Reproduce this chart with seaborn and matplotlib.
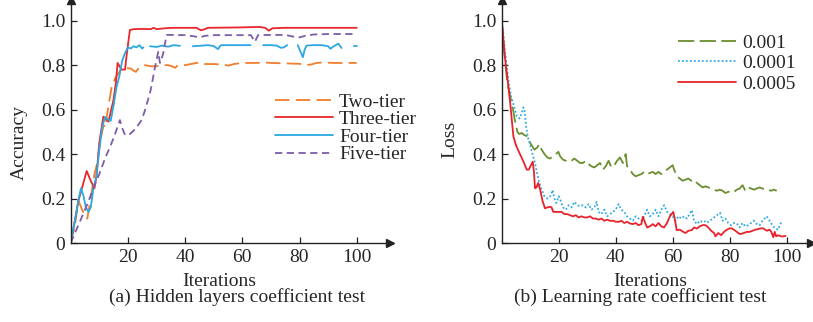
import matplotlib
matplotlib.use("Agg")
import matplotlib.pyplot as plt
from matplotlib.lines import Line2D
import seaborn as sns
import pandas as pd
import numpy as np

# ---- (a) hidden layers: accuracy vs iterations ----
two_x = [0, 1.5, 2.7, 4, 5, 5.8, 7, 8.3, 9.3, 10.5, 11.5, 12, 13, 14.3, 15.5, 16.5, 17.5, 18.5, 19.6,
         21, 22, 22.8, 24, 26, 28, 30, 32, 34, 35.5, 36.5, 37.5, 40, 42, 44, 45.5, 47, 50, 53, 55.1,
         57, 60, 65, 68, 70, 75, 80, 82, 84, 86, 88, 92, 100]
two_y = [0, 0.08, 0.19, 0.15, 0.12, 0.11, 0.2, 0.31, 0.36, 0.47, 0.53, 0.52, 0.6, 0.70, 0.74, 0.76, 0.78,
         0.79, 0.786, 0.785, 0.775, 0.77, 0.79, 0.80, 0.795, 0.795, 0.80, 0.80, 0.795, 0.788, 0.80, 0.80,
         0.805, 0.81, 0.812, 0.805, 0.805, 0.803, 0.798, 0.805, 0.81, 0.81, 0.812, 0.81, 0.808, 0.806,
         0.80, 0.803, 0.81, 0.812, 0.81, 0.81]

three_x = [0, 1, 2.7, 4, 5.6, 7, 8.3, 9, 10, 11.4, 12.2, 13.2, 14.9, 15.8, 16.4, 17.8, 19, 19.6,
           20.7, 22, 25, 28, 29, 30, 33, 36, 40, 44, 45.5, 46.5, 48, 55, 60, 66, 68, 69.3, 70.5, 75,
           80, 90, 100]
three_y = [0, 0.07, 0.19, 0.25, 0.324, 0.28, 0.246, 0.30, 0.45, 0.568, 0.56, 0.546, 0.64, 0.72, 0.81,
           0.78, 0.78, 0.85, 0.958, 0.962, 0.963, 0.962, 0.968, 0.962, 0.966, 0.968, 0.968, 0.968,
           0.957, 0.96, 0.968, 0.969, 0.97, 0.972, 0.968, 0.955, 0.966, 0.968, 0.968, 0.968, 0.968]

# NaN = break in the drawn line
four_x = [0, 1.5, 2.8, 3.6, 4.5, 5.3, 6.2, 7, 8, 9, 10, 11, 12, 13, 14, 15, 16, 17, 18, 19, 20, 21,
          22, 23, 24, 25, 25.4, 26.5, 27.7, 30, 32, 34, 36, 38.2, 40, 42.7, 45, 48, 50, 51.5, 52.5,
          56, 60, 62.9, 65, 67.3, 70, 72, 73.5, 74.5, 75.7, 77.5, 79.4, 80.3, 81.2, 81.8, 82.5, 85,
          88, 90, 90.8, 92, 93.6, 94.7, 97, 99.2, 100]
four_y = [0, 0.1, 0.2, 0.246, 0.21, 0.16, 0.14, 0.16, 0.25, 0.3, 0.42, 0.52, 0.567, 0.555, 0.55,
          0.62, 0.7, 0.75, 0.82, 0.855, 0.88, 0.875, 0.885, 0.88, 0.89, 0.875, 0.88, np.nan, 0.885,
          0.882, 0.888, 0.883, 0.89, 0.887, np.nan, 0.885, 0.887, 0.89, 0.886, 0.872, 0.89, 0.89,
          0.89, 0.89, np.nan, 0.89, 0.89, 0.888, 0.878, 0.88, 0.89, np.nan, 0.89, 0.862, 0.836,
          0.87, 0.888, 0.89, 0.89, 0.885, 0.874, 0.885, 0.897, 0.877, np.nan, 0.888, 0.888]

five_x = [0, 2, 4, 6, 8, 10, 12, 14, 15.5, 17.2, 17.9, 19, 20.7, 22, 23, 24.8, 25.8, 26.7, 27.7,
          28.6, 29.3, 30, 30.6, 31.2, 32.3, 33, 33.6, 36, 40, 43, 45, 47, 50, 55, 60, 63, 64.4, 65.5,
          70, 75, 78, 80, 82, 85, 90, 95, 100]
five_y = [0, 0.06, 0.12, 0.18, 0.25, 0.31, 0.38, 0.44, 0.49, 0.553, 0.52, 0.486, 0.49, 0.505, 0.52,
          0.553, 0.59, 0.63, 0.673, 0.73, 0.78, 0.823, 0.86, 0.81, 0.85, 0.9, 0.936, 0.936, 0.935,
          0.93, 0.925, 0.932, 0.935, 0.935, 0.935, 0.935, 0.905, 0.935, 0.936, 0.936, 0.928, 0.925,
          0.932, 0.938, 0.94, 0.94, 0.94]

# ---- (b) learning rate: loss vs iterations ----
lr_001_x = [0, 0.5, 1, 1.5, 2, 2.5, 3, 3.5, 4, 4.5, 5, 5.5, 6.2, 7, 8, 9, 10, 10.5, 11.5, 12.5, 13.2,
            14, 15, 16, 17, 18, 19, 19.9, 20.5, 21.5, 22.5, 23.5, 24.5, 25.5, 26.5, 27.5, 28.5, 29.5,
            30.5, 31.5, 32.5, 33.5, 34.5, 35.5, 36.5, 37.5, 38.5, 39.5, 40.5, 41.5, 42.5, 43.5, 44,
            45, 46, 47, 48, 49, 50, 51, 52, 53, 54, 55, 56, 57, 58, 59, 60, 60.5, 61.5, 62.5, 63.5,
            64.5, 65.5, 66.5, 67.5, 68.5, 69.5, 70.5, 71.5, 72.5, 73.5, 74.5, 75.5, 76.5, 77.5, 78.5,
            79.5, 80.5, 81.5, 82.5, 83.5, 84.5, 85.5, 86.5, 87.5, 88.5, 89.5, 90.5, 91.5, 92.5, 93.5,
            94.5, 95.5, 96.5]
lr_001_y = [1.0, 0.93, 0.85, 0.78, 0.72, 0.69, 0.66, 0.62, 0.6, 0.56, 0.53, 0.5, 0.49, 0.495, 0.485,
            0.48, 0.45, 0.44, 0.42, 0.43, 0.445, 0.42, 0.4, 0.385, 0.38, 0.39, 0.4, 0.41, 0.39, 0.375,
            0.37, 0.365, 0.37, 0.38, 0.37, 0.36, 0.36, 0.37, 0.355, 0.345, 0.34, 0.35, 0.36, 0.33,
            0.345, 0.37, 0.34, 0.35, 0.37, 0.385, 0.36, 0.40, 0.345, 0.33, 0.31, 0.3, 0.305, 0.31,
            0.32, 0.31, 0.315, 0.32, 0.31, 0.32, 0.31, 0.32, 0.33, 0.34, 0.35, 0.33, 0.3, 0.29, 0.28,
            0.285, 0.29, 0.28, 0.285, 0.27, 0.26, 0.25, 0.255, 0.25, 0.245, 0.24, 0.235, 0.24, 0.235,
            0.225, 0.23, 0.235, 0.23, 0.24, 0.245, 0.26, 0.235, 0.25, 0.245, 0.24, 0.245, 0.25, 0.245,
            0.24, 0.24, 0.235, 0.24, 0.235]

lr_0001_x = [0, 0.5, 1, 1.7, 2.5, 3.3, 4.2, 5.3, 6.3, 7, 7.6, 8.1, 8.6, 9.3, 10, 10.8, 11.7, 12.3, 13,
             14, 15, 16, 17, 17.9, 18.5, 19.2, 20, 20.7, 21.5, 22.5, 23.5, 24.5, 25.5, 26.5, 27.5, 28.5,
             29.5, 30.5, 31.5, 32.5, 33.3, 34, 35, 36, 37, 38, 39, 40, 41, 42, 43, 44, 45, 46, 47, 48,
             49, 50, 51, 52, 53, 54, 55, 56, 57, 58, 59, 60, 61, 62, 63, 64, 65, 66.7, 67.5, 68.5,
             69.5, 70.2, 71, 72, 73, 74, 75, 76.6, 77.5, 78.5, 79.5, 80.5, 81.5, 82.5, 83.5, 84.5,
             85.5, 86.5, 87.5, 88.5, 89.5, 90.5, 91.5, 93, 94, 95, 95.9, 97, 97.6, 98.2]
lr_0001_y = [1.0, 0.95, 0.88, 0.8, 0.72, 0.66, 0.62, 0.57, 0.56, 0.585, 0.61, 0.59, 0.52, 0.47, 0.44,
             0.4, 0.36, 0.32, 0.28, 0.24, 0.21, 0.2, 0.21, 0.238, 0.2, 0.18, 0.21, 0.19, 0.16, 0.15,
             0.17, 0.16, 0.185, 0.17, 0.165, 0.17, 0.16, 0.175, 0.15, 0.16, 0.185, 0.14, 0.13, 0.15,
             0.12, 0.13, 0.14, 0.15, 0.175, 0.15, 0.14, 0.12, 0.11, 0.1, 0.12, 0.11, 0.1, 0.12, 0.15,
             0.12, 0.13, 0.15, 0.12, 0.15, 0.17, 0.14, 0.13, 0.12, 0.1, 0.12, 0.11, 0.12, 0.11, 0.148,
             0.1, 0.085, 0.1, 0.096, 0.1, 0.09, 0.1, 0.11, 0.12, 0.136, 0.1, 0.11, 0.09, 0.08, 0.09,
             0.088, 0.07, 0.09, 0.075, 0.08, 0.09, 0.1, 0.085, 0.08, 0.1, 0.12, 0.1, 0.08, 0.066, 0.06,
             0.08, 0.096]

lr_0005_x = [0, 0.5, 1, 1.75, 2.9, 4.1, 5, 6.4, 7.5, 8.8, 9.5, 10.9, 11.3, 11.7, 12.2, 12.8, 13.5,
             14.3, 15.2, 16, 16.9, 17.5, 18.1, 19, 20, 21, 22, 23, 24, 25, 26, 27, 28, 29, 30, 31, 32,
             33, 34, 35, 36, 37, 38, 39, 40, 41, 42, 43, 44, 45, 46, 47, 48, 49, 49.5, 51, 52, 53, 54,
             55, 56, 57, 58, 59, 60.2, 60.7, 61.4, 62.5, 63.7, 64.5, 65.5, 66.7, 67.5, 68.5, 69.5, 70.7,
             71.5, 72.5, 73.5, 74.5, 75, 75.4, 76, 77, 78, 79, 80, 80.7, 82, 83, 83.6, 85, 86, 87, 88,
             89, 90, 91, 91.8, 93, 94, 94.6, 95.3, 95.8, 96.3, 97, 98, 99, 99.6]
lr_0005_y = [1.0, 0.93, 0.85, 0.77, 0.64, 0.48, 0.44, 0.40, 0.37, 0.33, 0.33, 0.366, 0.32, 0.246,
             0.25, 0.27, 0.24, 0.19, 0.156, 0.16, 0.163, 0.16, 0.14, 0.14, 0.14, 0.14, 0.13, 0.13,
             0.125, 0.12, 0.125, 0.115, 0.12, 0.115, 0.115, 0.12, 0.11, 0.11, 0.105, 0.11, 0.1, 0.105,
             0.1, 0.1, 0.096, 0.095, 0.1, 0.09, 0.095, 0.088, 0.085, 0.09, 0.08, 0.085, 0.118, 0.07,
             0.075, 0.085, 0.075, 0.09, 0.075, 0.07, 0.09, 0.12, 0.14, 0.11, 0.058, 0.06, 0.05, 0.045,
             0.055, 0.058, 0.07, 0.065, 0.075, 0.081, 0.08, 0.07, 0.055, 0.045, 0.03, 0.036, 0.045,
             0.035, 0.05, 0.06, 0.066, 0.066, 0.055, 0.045, 0.04, 0.045, 0.05, 0.05, 0.055, 0.06, 0.063,
             0.066, 0.066, 0.055, 0.06, 0.05, 0.026, 0.05, 0.03, 0.035, 0.03, 0.03, 0.032]

x_ticks = [20, 40, 60, 80, 100]
y_ticks = [0, 0.2, 0.4, 0.6, 0.8, 1.0]
y_tick_labels = ["0", "0.2", "0.4", "0.6", "0.8", "1.0"]

sns.set_theme(style="white")
plt.rcParams["font.family"] = ["Liberation Serif", "DejaVu Serif"]
FS = 14


def draw_series(ax, xs, ys, color, ls, lw=1.3):
    df = pd.DataFrame({"x": xs, "y": ys})
    df["seg"] = df["y"].isna().cumsum()
    df = df.dropna()
    sns.lineplot(data=df, x="x", y="y", units="seg", estimator=None, sort=False,
                 color=color, linestyle=ls, linewidth=lw, ax=ax)


def style_axes(ax, xmax, ymax):
    ax.set_xlim(0, xmax)
    ax.set_ylim(0, ymax)
    for s in ["top", "right"]:
        ax.spines[s].set_visible(False)
    for s in ["left", "bottom"]:
        ax.spines[s].set_color("#222222")
        ax.spines[s].set_linewidth(1.0)
    ax.plot(1, 0, ">", color="#222222", ms=6, transform=ax.transAxes, clip_on=False)
    ax.plot(0, 1, "^", color="#222222", ms=6, transform=ax.transAxes, clip_on=False)
    ax.set_xticks(x_ticks)
    ax.set_yticks(y_ticks)
    ax.set_yticklabels(y_tick_labels)
    ax.tick_params(direction="in", length=4, width=0.9, color="#222222",
                   labelsize=FS, pad=4, bottom=True, left=True)
    ax.set_xlabel("")
    ax.set_ylabel("")
    ax.grid(False)


W, H = 813, 322
fig = plt.figure(figsize=(W / 100, H / 100), dpi=100)

# left panel: x 0->70.7px, 100->356.7px ; y 0->243px, 1->20.7px
ax1 = fig.add_axes([70.7 / W, 1 - 243 / H, (390 - 70.7) / W, 243 / H])
ax2 = fig.add_axes([501.7 / W, 1 - 243 / H, (811 - 501.7) / W, 243 / H])

c_two, c_three, c_four, c_five = "#F07D2B", "#E8262B", "#2BA8E2", "#7D5CA8"
ls_two, ls_five = (0, (8, 3.5)), (0, (4, 2.5))
draw_series(ax1, two_x, two_y, c_two, ls_two)
draw_series(ax1, three_x, three_y, c_three, "-")
draw_series(ax1, four_x, four_y, c_four, "-")
draw_series(ax1, five_x, five_y, c_five, ls_five)
style_axes(ax1, (390 - 70.7) / 2.86, 243 / 222.3)

c_g, c_b, c_r = "#6B8E2E", "#33AAE4", "#E8232B"
ls_g, ls_b = (0, (9, 3)), (0, (1, 1.2))
draw_series(ax2, lr_001_x, lr_001_y, c_g, ls_g)
draw_series(ax2, lr_0001_x, lr_0001_y, c_b, ls_b)
draw_series(ax2, lr_0005_x, lr_0005_y, c_r, "-")
style_axes(ax2, (811 - 501.7) / 2.85, 243 / 222.3)

h1 = [Line2D([], [], color=c_two, ls=ls_two, lw=1.3),
      Line2D([], [], color=c_three, ls="-", lw=1.3),
      Line2D([], [], color=c_four, ls="-", lw=1.3),
      Line2D([], [], color=c_five, ls=ls_five, lw=1.3)]
fig.legend(h1, ["Two-tier", "Three-tier", "Four-tier", "Five-tier"], loc="upper left",
           bbox_to_anchor=(275 / W, 1 - 93 / H), frameon=False, fontsize=FS,
           handlelength=3.0, handletextpad=0.3, labelspacing=0.0, borderpad=0, borderaxespad=0)

h2 = [Line2D([], [], color=c_g, ls=ls_g, lw=1.3),
      Line2D([], [], color=c_b, ls=ls_b, lw=1.3),
      Line2D([], [], color=c_r, ls="-", lw=1.3)]
fig.legend(h2, ["0.001", "0.0001", "0.0005"], loc="upper left",
           bbox_to_anchor=(678 / W, 1 - 34 / H), frameon=False, fontsize=FS,
           handlelength=3.0, handletextpad=0.3, labelspacing=0.15, borderpad=0, borderaxespad=0)

fig.text(19 / W, 1 - 142 / H, "Accuracy", rotation=90, ha="center", va="center", fontsize=FS)
fig.text(450 / W, 1 - 139 / H, "Loss", rotation=90, ha="center", va="center", fontsize=FS)
fig.text(219 / W, 1 - 281 / H, "Iterations", ha="center", va="center", fontsize=FS)
fig.text(650 / W, 1 - 281 / H, "Iterations", ha="center", va="center", fontsize=FS)
fig.text(237 / W, 1 - 297 / H, "(a) Hidden layers coefficient test", ha="center", va="center",
         fontsize=FS)
fig.text(640 / W, 1 - 297 / H, "(b) Learning rate coefficient test", ha="center", va="center",
         fontsize=FS)

fig.savefig("out.png", dpi=100, facecolor="white")
